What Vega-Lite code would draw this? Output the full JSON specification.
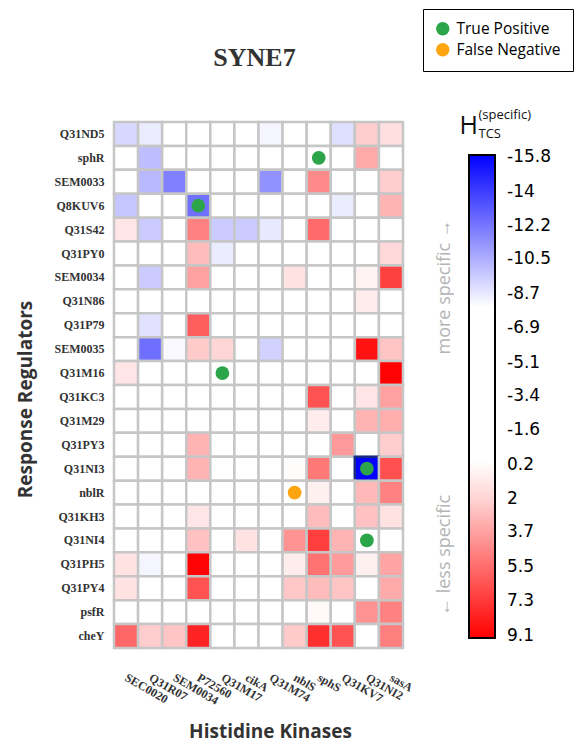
{
  "$schema": "https://vega.github.io/schema/vega-lite/v6.json",
  "autosize": {"type": "none"},
  "width": 289,
  "height": 526,
  "padding": {"left": 114, "top": 122, "right": 179, "bottom": 97},
  "background": "white",
  "config": {"view": {"stroke": null}},
  "title": {"text": "SYNE7", "font": "Liberation Serif", "fontSize": 26, "fontWeight": "bold", "color": "#333", "anchor": "middle", "baseline": "alphabetic", "offset": 0, "dy": 83, "dx": -4},
  "datasets": {
    "cells": [
      {"rr":"Q31ND5","hk":"SEC0020","v":-9.2},{"rr":"Q31ND5","hk":"Q31R07","v":-8.6},{"rr":"Q31ND5","hk":"SEM0034","v":0},{"rr":"Q31ND5","hk":"P72560","v":0},{"rr":"Q31ND5","hk":"Q31M17","v":0},{"rr":"Q31ND5","hk":"cikA","v":0},{"rr":"Q31ND5","hk":"Q31M74","v":-8.3},{"rr":"Q31ND5","hk":"nblS","v":0},{"rr":"Q31ND5","hk":"sphS","v":0},{"rr":"Q31ND5","hk":"Q31KV7","v":-9.0},{"rr":"Q31ND5","hk":"Q31NI2","v":2.2},{"rr":"Q31ND5","hk":"sasA","v":1.6},
      {"rr":"sphR","hk":"SEC0020","v":0},{"rr":"sphR","hk":"Q31R07","v":-10.0},{"rr":"sphR","hk":"SEM0034","v":0},{"rr":"sphR","hk":"P72560","v":0},{"rr":"sphR","hk":"Q31M17","v":0},{"rr":"sphR","hk":"cikA","v":0},{"rr":"sphR","hk":"Q31M74","v":0},{"rr":"sphR","hk":"nblS","v":0},{"rr":"sphR","hk":"sphS","v":0},{"rr":"sphR","hk":"Q31KV7","v":0},{"rr":"sphR","hk":"Q31NI2","v":3.4},{"rr":"sphR","hk":"sasA","v":0},
      {"rr":"SEM0033","hk":"SEC0020","v":0},{"rr":"SEM0033","hk":"Q31R07","v":-10.2},{"rr":"SEM0033","hk":"SEM0034","v":-11.9},{"rr":"SEM0033","hk":"P72560","v":0},{"rr":"SEM0033","hk":"Q31M17","v":0},{"rr":"SEM0033","hk":"cikA","v":0},{"rr":"SEM0033","hk":"Q31M74","v":-11.4},{"rr":"SEM0033","hk":"nblS","v":0},{"rr":"SEM0033","hk":"sphS","v":4.5},{"rr":"SEM0033","hk":"Q31KV7","v":0},{"rr":"SEM0033","hk":"Q31NI2","v":0},{"rr":"SEM0033","hk":"sasA","v":2.2},
      {"rr":"Q8KUV6","hk":"SEC0020","v":-9.8},{"rr":"Q8KUV6","hk":"Q31R07","v":0},{"rr":"Q8KUV6","hk":"SEM0034","v":0},{"rr":"Q8KUV6","hk":"P72560","v":-12.4},{"rr":"Q8KUV6","hk":"Q31M17","v":0},{"rr":"Q8KUV6","hk":"cikA","v":0},{"rr":"Q8KUV6","hk":"Q31M74","v":0},{"rr":"Q8KUV6","hk":"nblS","v":0},{"rr":"Q8KUV6","hk":"sphS","v":0},{"rr":"Q8KUV6","hk":"Q31KV7","v":-8.6},{"rr":"Q8KUV6","hk":"Q31NI2","v":0},{"rr":"Q8KUV6","hk":"sasA","v":3.1},
      {"rr":"Q31S42","hk":"SEC0020","v":1.4},{"rr":"Q31S42","hk":"Q31R07","v":-9.6},{"rr":"Q31S42","hk":"SEM0034","v":0},{"rr":"Q31S42","hk":"P72560","v":4.8},{"rr":"Q31S42","hk":"Q31M17","v":-9.6},{"rr":"Q31S42","hk":"cikA","v":-9.6},{"rr":"Q31S42","hk":"Q31M74","v":-8.7},{"rr":"Q31S42","hk":"nblS","v":0},{"rr":"Q31S42","hk":"sphS","v":5.6},{"rr":"Q31S42","hk":"Q31KV7","v":0},{"rr":"Q31S42","hk":"Q31NI2","v":0},{"rr":"Q31S42","hk":"sasA","v":0},
      {"rr":"Q31PY0","hk":"SEC0020","v":0},{"rr":"Q31PY0","hk":"Q31R07","v":0},{"rr":"Q31PY0","hk":"SEM0034","v":0},{"rr":"Q31PY0","hk":"P72560","v":2.8},{"rr":"Q31PY0","hk":"Q31M17","v":-8.6},{"rr":"Q31PY0","hk":"cikA","v":0},{"rr":"Q31PY0","hk":"Q31M74","v":0},{"rr":"Q31PY0","hk":"nblS","v":0},{"rr":"Q31PY0","hk":"sphS","v":0},{"rr":"Q31PY0","hk":"Q31KV7","v":0},{"rr":"Q31PY0","hk":"Q31NI2","v":0},{"rr":"Q31PY0","hk":"sasA","v":1.8},
      {"rr":"SEM0034","hk":"SEC0020","v":0},{"rr":"SEM0034","hk":"Q31R07","v":-9.6},{"rr":"SEM0034","hk":"SEM0034","v":0},{"rr":"SEM0034","hk":"P72560","v":3.7},{"rr":"SEM0034","hk":"Q31M17","v":0},{"rr":"SEM0034","hk":"cikA","v":0},{"rr":"SEM0034","hk":"Q31M74","v":0},{"rr":"SEM0034","hk":"nblS","v":1.5},{"rr":"SEM0034","hk":"sphS","v":0},{"rr":"SEM0034","hk":"Q31KV7","v":0},{"rr":"SEM0034","hk":"Q31NI2","v":0.9},{"rr":"SEM0034","hk":"sasA","v":7.0},
      {"rr":"Q31N86","hk":"SEC0020","v":0},{"rr":"Q31N86","hk":"Q31R07","v":0},{"rr":"Q31N86","hk":"SEM0034","v":0},{"rr":"Q31N86","hk":"P72560","v":0},{"rr":"Q31N86","hk":"Q31M17","v":0},{"rr":"Q31N86","hk":"cikA","v":0},{"rr":"Q31N86","hk":"Q31M74","v":0},{"rr":"Q31N86","hk":"nblS","v":0},{"rr":"Q31N86","hk":"sphS","v":0},{"rr":"Q31N86","hk":"Q31KV7","v":0},{"rr":"Q31N86","hk":"Q31NI2","v":1.1},{"rr":"Q31N86","hk":"sasA","v":0},
      {"rr":"Q31P79","hk":"SEC0020","v":0},{"rr":"Q31P79","hk":"Q31R07","v":-8.9},{"rr":"Q31P79","hk":"SEM0034","v":0},{"rr":"Q31P79","hk":"P72560","v":6.0},{"rr":"Q31P79","hk":"Q31M17","v":0},{"rr":"Q31P79","hk":"cikA","v":0},{"rr":"Q31P79","hk":"Q31M74","v":0},{"rr":"Q31P79","hk":"nblS","v":0},{"rr":"Q31P79","hk":"sphS","v":0},{"rr":"Q31P79","hk":"Q31KV7","v":0},{"rr":"Q31P79","hk":"Q31NI2","v":0},{"rr":"Q31P79","hk":"sasA","v":0},
      {"rr":"SEM0035","hk":"SEC0020","v":0},{"rr":"SEM0035","hk":"Q31R07","v":-12.5},{"rr":"SEM0035","hk":"SEM0034","v":-8.2},{"rr":"SEM0035","hk":"P72560","v":2.3},{"rr":"SEM0035","hk":"Q31M17","v":1.9},{"rr":"SEM0035","hk":"cikA","v":0},{"rr":"SEM0035","hk":"Q31M74","v":-9.4},{"rr":"SEM0035","hk":"nblS","v":0},{"rr":"SEM0035","hk":"sphS","v":0},{"rr":"SEM0035","hk":"Q31KV7","v":0},{"rr":"SEM0035","hk":"Q31NI2","v":8.6},{"rr":"SEM0035","hk":"sasA","v":2.5},
      {"rr":"Q31M16","hk":"SEC0020","v":1.4},{"rr":"Q31M16","hk":"Q31R07","v":0},{"rr":"Q31M16","hk":"SEM0034","v":0},{"rr":"Q31M16","hk":"P72560","v":0},{"rr":"Q31M16","hk":"Q31M17","v":0},{"rr":"Q31M16","hk":"cikA","v":0},{"rr":"Q31M16","hk":"Q31M74","v":0},{"rr":"Q31M16","hk":"nblS","v":0},{"rr":"Q31M16","hk":"sphS","v":0},{"rr":"Q31M16","hk":"Q31KV7","v":0},{"rr":"Q31M16","hk":"Q31NI2","v":0},{"rr":"Q31M16","hk":"sasA","v":9.1},
      {"rr":"Q31KC3","hk":"SEC0020","v":0},{"rr":"Q31KC3","hk":"Q31R07","v":0},{"rr":"Q31KC3","hk":"SEM0034","v":0},{"rr":"Q31KC3","hk":"P72560","v":0},{"rr":"Q31KC3","hk":"Q31M17","v":0},{"rr":"Q31KC3","hk":"cikA","v":0},{"rr":"Q31KC3","hk":"Q31M74","v":0},{"rr":"Q31KC3","hk":"nblS","v":0},{"rr":"Q31KC3","hk":"sphS","v":6.4},{"rr":"Q31KC3","hk":"Q31KV7","v":0},{"rr":"Q31KC3","hk":"Q31NI2","v":1.4},{"rr":"Q31KC3","hk":"sasA","v":3.7},
      {"rr":"Q31M29","hk":"SEC0020","v":0},{"rr":"Q31M29","hk":"Q31R07","v":0},{"rr":"Q31M29","hk":"SEM0034","v":0},{"rr":"Q31M29","hk":"P72560","v":0},{"rr":"Q31M29","hk":"Q31M17","v":0},{"rr":"Q31M29","hk":"cikA","v":0},{"rr":"Q31M29","hk":"Q31M74","v":0},{"rr":"Q31M29","hk":"nblS","v":0},{"rr":"Q31M29","hk":"sphS","v":1.1},{"rr":"Q31M29","hk":"Q31KV7","v":0},{"rr":"Q31M29","hk":"Q31NI2","v":3.1},{"rr":"Q31M29","hk":"sasA","v":3.3},
      {"rr":"Q31PY3","hk":"SEC0020","v":0},{"rr":"Q31PY3","hk":"Q31R07","v":0},{"rr":"Q31PY3","hk":"SEM0034","v":0},{"rr":"Q31PY3","hk":"P72560","v":3.1},{"rr":"Q31PY3","hk":"Q31M17","v":0},{"rr":"Q31PY3","hk":"cikA","v":0},{"rr":"Q31PY3","hk":"Q31M74","v":0},{"rr":"Q31PY3","hk":"nblS","v":0},{"rr":"Q31PY3","hk":"sphS","v":0},{"rr":"Q31PY3","hk":"Q31KV7","v":4.0},{"rr":"Q31PY3","hk":"Q31NI2","v":0},{"rr":"Q31PY3","hk":"sasA","v":2.2},
      {"rr":"Q31NI3","hk":"SEC0020","v":0},{"rr":"Q31NI3","hk":"Q31R07","v":0},{"rr":"Q31NI3","hk":"SEM0034","v":0},{"rr":"Q31NI3","hk":"P72560","v":3.1},{"rr":"Q31NI3","hk":"Q31M17","v":0},{"rr":"Q31NI3","hk":"cikA","v":0},{"rr":"Q31NI3","hk":"Q31M74","v":0},{"rr":"Q31NI3","hk":"nblS","v":0.6},{"rr":"Q31NI3","hk":"sphS","v":5.1},{"rr":"Q31NI3","hk":"Q31KV7","v":0},{"rr":"Q31NI3","hk":"Q31NI2","v":-15.8},{"rr":"Q31NI3","hk":"sasA","v":6.5},
      {"rr":"nblR","hk":"SEC0020","v":0},{"rr":"nblR","hk":"Q31R07","v":0},{"rr":"nblR","hk":"SEM0034","v":0},{"rr":"nblR","hk":"P72560","v":0},{"rr":"nblR","hk":"Q31M17","v":0},{"rr":"nblR","hk":"cikA","v":0},{"rr":"nblR","hk":"Q31M74","v":0},{"rr":"nblR","hk":"nblS","v":0},{"rr":"nblR","hk":"sphS","v":1.0},{"rr":"nblR","hk":"Q31KV7","v":0},{"rr":"nblR","hk":"Q31NI2","v":2.9},{"rr":"nblR","hk":"sasA","v":4.8},
      {"rr":"Q31KH3","hk":"SEC0020","v":0},{"rr":"Q31KH3","hk":"Q31R07","v":0},{"rr":"Q31KH3","hk":"SEM0034","v":0},{"rr":"Q31KH3","hk":"P72560","v":1.4},{"rr":"Q31KH3","hk":"Q31M17","v":0},{"rr":"Q31KH3","hk":"cikA","v":0},{"rr":"Q31KH3","hk":"Q31M74","v":0},{"rr":"Q31KH3","hk":"nblS","v":0},{"rr":"Q31KH3","hk":"sphS","v":2.8},{"rr":"Q31KH3","hk":"Q31KV7","v":0},{"rr":"Q31KH3","hk":"Q31NI2","v":2.6},{"rr":"Q31KH3","hk":"sasA","v":1.5},
      {"rr":"Q31NI4","hk":"SEC0020","v":0},{"rr":"Q31NI4","hk":"Q31R07","v":0},{"rr":"Q31NI4","hk":"SEM0034","v":0},{"rr":"Q31NI4","hk":"P72560","v":2.6},{"rr":"Q31NI4","hk":"Q31M17","v":0},{"rr":"Q31NI4","hk":"cikA","v":1.5},{"rr":"Q31NI4","hk":"Q31M74","v":0},{"rr":"Q31NI4","hk":"nblS","v":4.2},{"rr":"Q31NI4","hk":"sphS","v":7.1},{"rr":"Q31NI4","hk":"Q31KV7","v":3.1},{"rr":"Q31NI4","hk":"Q31NI2","v":0},{"rr":"Q31NI4","hk":"sasA","v":0},
      {"rr":"Q31PH5","hk":"SEC0020","v":1.5},{"rr":"Q31PH5","hk":"Q31R07","v":-8.3},{"rr":"Q31PH5","hk":"SEM0034","v":0},{"rr":"Q31PH5","hk":"P72560","v":9.1},{"rr":"Q31PH5","hk":"Q31M17","v":0},{"rr":"Q31PH5","hk":"cikA","v":0},{"rr":"Q31PH5","hk":"Q31M74","v":0},{"rr":"Q31PH5","hk":"nblS","v":1.1},{"rr":"Q31PH5","hk":"sphS","v":5.3},{"rr":"Q31PH5","hk":"Q31KV7","v":3.9},{"rr":"Q31PH5","hk":"Q31NI2","v":1.0},{"rr":"Q31PH5","hk":"sasA","v":3.6},
      {"rr":"Q31PY4","hk":"SEC0020","v":1.5},{"rr":"Q31PY4","hk":"Q31R07","v":0},{"rr":"Q31PY4","hk":"SEM0034","v":0},{"rr":"Q31PY4","hk":"P72560","v":6.4},{"rr":"Q31PY4","hk":"Q31M17","v":0},{"rr":"Q31PY4","hk":"cikA","v":0},{"rr":"Q31PY4","hk":"Q31M74","v":0},{"rr":"Q31PY4","hk":"nblS","v":2.4},{"rr":"Q31PY4","hk":"sphS","v":2.8},{"rr":"Q31PY4","hk":"Q31KV7","v":2.5},{"rr":"Q31PY4","hk":"Q31NI2","v":0},{"rr":"Q31PY4","hk":"sasA","v":3.4},
      {"rr":"psfR","hk":"SEC0020","v":0},{"rr":"psfR","hk":"Q31R07","v":0},{"rr":"psfR","hk":"SEM0034","v":0},{"rr":"psfR","hk":"P72560","v":0},{"rr":"psfR","hk":"Q31M17","v":0},{"rr":"psfR","hk":"cikA","v":0},{"rr":"psfR","hk":"Q31M74","v":0},{"rr":"psfR","hk":"nblS","v":0},{"rr":"psfR","hk":"sphS","v":0.7},{"rr":"psfR","hk":"Q31KV7","v":0},{"rr":"psfR","hk":"Q31NI2","v":4.2},{"rr":"psfR","hk":"sasA","v":4.8},
      {"rr":"cheY","hk":"SEC0020","v":5.7},{"rr":"cheY","hk":"Q31R07","v":2.2},{"rr":"cheY","hk":"SEM0034","v":2.5},{"rr":"cheY","hk":"P72560","v":8.0},{"rr":"cheY","hk":"Q31M17","v":0},{"rr":"cheY","hk":"cikA","v":0},{"rr":"cheY","hk":"Q31M74","v":0},{"rr":"cheY","hk":"nblS","v":2.3},{"rr":"cheY","hk":"sphS","v":7.6},{"rr":"cheY","hk":"Q31KV7","v":6.4},{"rr":"cheY","hk":"Q31NI2","v":0},{"rr":"cheY","hk":"sasA","v":4.9}
    ],
    "hits": [
      {"rr":"sphR","hk":"sphS","type":"True Positive"},
      {"rr":"Q8KUV6","hk":"P72560","type":"True Positive"},
      {"rr":"Q31M16","hk":"Q31M17","type":"True Positive"},
      {"rr":"Q31NI3","hk":"Q31NI2","type":"True Positive"},
      {"rr":"nblR","hk":"nblS","type":"False Negative"},
      {"rr":"Q31NI4","hk":"Q31NI2","type":"True Positive"}
    ]
  },
  "layer": [
    {
      "data": {"name": "cells"},
      "mark": {"type": "rect", "strokeWidth": 2.5},
      "encoding": {
        "x": {"field": "hk", "type": "nominal", "scale": {"domain": ["SEC0020","Q31R07","SEM0034","P72560","Q31M17","cikA","Q31M74","nblS","sphS","Q31KV7","Q31NI2","sasA"]},
          "axis": {"orient": "bottom", "title": "Histidine Kinases", "labelAngle": 30, "labelAlign": "left", "labelBaseline": "middle", "labelPadding": 28, "labelFont": "Liberation Serif", "labelFontWeight": "bold", "labelFontSize": 12, "labelColor": "#333", "ticks": false, "domain": false, "titleFont": "Open Sans", "titleFontSize": 19, "titleFontWeight": "bold", "titleColor": "#333", "titleX": 156, "titleY": 89, "titleBaseline": "alphabetic"}},
        "y": {"field": "rr", "type": "nominal", "scale": {"domain": ["Q31ND5","sphR","SEM0033","Q8KUV6","Q31S42","Q31PY0","SEM0034","Q31N86","Q31P79","SEM0035","Q31M16","Q31KC3","Q31M29","Q31PY3","Q31NI3","nblR","Q31KH3","Q31NI4","Q31PH5","Q31PY4","psfR","cheY"]},
          "axis": {"orient": "left", "title": "Response Regulators", "labelFont": "Liberation Serif", "labelFontWeight": "bold", "labelFontSize": 12, "labelColor": "#333", "labelPadding": 10, "ticks": false, "domain": false, "titleFont": "Open Sans", "titleFontSize": 19, "titleFontWeight": "bold", "titleColor": "#333", "titleX": -83, "titleY": 277, "titleBaseline": "alphabetic", "titleAngle": 270}},
        "color": {"field": "v", "type": "quantitative",
          "scale": {"domain": [9.2, 0.5, -8, -15.9], "range": ["#ff0000", "#ffffff", "#ffffff", "#0000ff"], "interpolate": "rgb"},
          "legend": {"orient": "none", "legendX": 322, "legendY": 33, "direction": "vertical", "gradientLength": 483, "gradientThickness": 26, "gradientStrokeColor": "#000", "gradientStrokeWidth": 2,
            "values": [-15.8, -14, -12.2, -10.5, -8.7, -6.9, -5.1, -3.4, -1.6, 0.2, 2, 3.7, 5.5, 7.3, 9.1],
            "labelExpr": "'' + datum.value", "labelFont": "DejaVu Sans", "labelFontSize": 17, "labelColor": "#000", "labelOffset": 12, "labelOverlap": false, "labelBaseline": "middle",
            "title": "\u2190\u00a0less specific\u00a0\u00a0\u00a0\u00a0\u00a0\u00a0\u00a0\u00a0\u00a0\u00a0\u00a0\u00a0\u00a0\u00a0\u00a0\u00a0\u00a0\u00a0\u00a0\u00a0\u00a0\u00a0\u00a0\u00a0\u00a0\u00a0\u00a0\u00a0\u00a0\u00a0more specific\u00a0\u2192\u00a0\u00a0\u00a0\u00a0\u00a0\u00a0\u00a0\u00a0\u00a0\u200b",
            "titleLimit": 1000, "titleOrient": "left", "titleAnchor": "middle", "titleFont": "Open Sans", "titleFontSize": 18, "titleFontWeight": "normal", "titleColor": "#b4b4b4", "titlePadding": 14}},
        "stroke": {"condition": {"test": "datum.v < -15", "value": "#1a2a80"}, "value": "#c6c6c6"}
      }
    },
    {
      "data": {"name": "hits"},
      "mark": {"type": "circle", "size": 190, "opacity": 1},
      "encoding": {
        "x": {"field": "hk", "type": "nominal", "scale": {"domain": ["SEC0020","Q31R07","SEM0034","P72560","Q31M17","cikA","Q31M74","nblS","sphS","Q31KV7","Q31NI2","sasA"]},
          "axis": {"orient": "top", "labels": false, "ticks": false, "domain": false, "title": "H", "titleFont": "Open Sans", "titleFontSize": 25, "titleFontWeight": "normal", "titleColor": "#111", "titleX": 345, "titleY": 11, "titleAlign": "left", "titleBaseline": "alphabetic"}},
        "y": {"field": "rr", "type": "nominal", "scale": {"domain": ["Q31ND5","sphR","SEM0033","Q8KUV6","Q31S42","Q31PY0","SEM0034","Q31N86","Q31P79","SEM0035","Q31M16","Q31KC3","Q31M29","Q31PY3","Q31NI3","nblR","Q31KH3","Q31NI4","Q31PH5","Q31PY4","psfR","cheY"]},
          "axis": {"orient": "right", "labels": false, "ticks": false, "domain": false,
            "title": ["(specific)", "TCS"], "titleAngle": 0, "titleFont": "Open Sans", "titleFontSize": 13, "titleLineHeight": 19, "titleFontWeight": "normal", "titleColor": "#111", "titleX": 75, "titleY": -4, "titleBaseline": "alphabetic", "titleAlign": "left"}},
        "color": {"field": "type", "type": "nominal",
          "scale": {"domain": ["True Positive", "False Negative"], "range": ["#2ca44a", "#ffa510"]},
          "legend": {"orient": "none", "legendX": 309, "legendY": -113, "title": null, "strokeColor": "#000", "padding": 12, "symbolType": "circle", "symbolSize": 180, "symbolStrokeWidth": 0, "labelFont": "Open Sans", "labelFontSize": 15.5, "labelColor": "#000", "rowPadding": 4, "labelOffset": 6}}
      }
    }
  ],
  "resolve": {"scale": {"color": "independent"}, "axis": {"x": "independent", "y": "independent"}}
}
